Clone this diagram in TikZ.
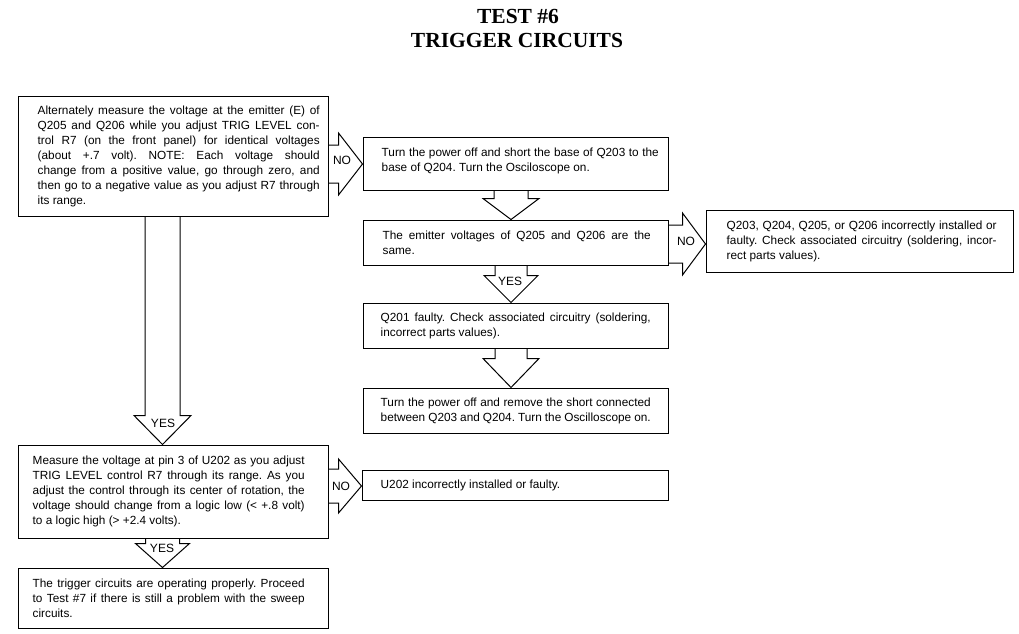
\documentclass[tikz,border=0pt]{standalone}
\usepackage{fontspec}
\setmainfont{Liberation Sans}
\newfontfamily\titlefont{Liberation Serif}
\usetikzlibrary{calc,fit}
\newcommand\txtsetup{\fontsize{11.8}{15}\selectfont\frenchspacing\hyphenpenalty=10000 \tolerance=9999\relax}
% right-pointing block arrow: from, to, shaft length, shaft half, head half
\newcommand\rblock[5]{%
  \draw[blk] ($(#1)+(0,-#4)$) -- ($(#1)+(#3,-#4)$) -- ($(#1)+(#3,-#5)$) -- (#2)
    -- ($(#1)+(#3,#5)$) -- ($(#1)+(#3,#4)$) -- ($(#1)+(0,#4)$);}
% down-pointing block arrow: from, to, shaft length, shaft half, head half
\newcommand\dblock[5]{%
  \draw[blk] ($(#1)+(-#4,0)$) -- ($(#1)+(-#4,#3)$) -- ($(#1)+(-#5,#3)$) -- (#2)
    -- ($(#1)+(#5,#3)$) -- ($(#1)+(#4,#3)$) -- ($(#1)+(#4,0)$);}
\begin{document}
\begin{tikzpicture}[x=1pt,y=-1pt,
  box/.style={draw, line width=1pt, rectangle, inner sep=0pt},
  txt/.style={inner sep=0pt, anchor=west, align=justify, font=\txtsetup},
  blk/.style={draw, line width=1pt, line join=miter},
  lab/.style={inner sep=0pt, font=\fontsize{12}{13}\selectfont},
  ttl/.style={inner sep=0pt, font=\titlefont\bfseries\fontsize{21.5}{21.5}\selectfont}]
\useasboundingbox (0,0) rectangle (1019,633);

% title
\node[ttl] (title1) at (518,16) {TEST \#6};
\node[ttl] (title2) at (517,40) {TRIGGER CIRCUITS};

% boxes
\node[box, fit={(18,96) (328,216)}] (b1) {};
\node[box, fit={(363,137) (668,190)}] (b2) {};
\node[box, fit={(363,220) (668,265)}] (b3) {};
\node[box, fit={(363,303) (668,348)}] (b4) {};
\node[box, fit={(363,388) (668,433)}] (b5) {};
\node[box, fit={(706,210) (1013,272)}] (b6) {};
\node[box, fit={(18,445) (328,538)}] (b7) {};
\node[box, fit={(362,470) (668,500)}] (b8) {};
\node[box, fit={(18,568) (328,628)}] (b9) {};

% texts
\node[txt, text width=282pt] (t1) at ([xshift=20pt]b1.west) {Alternately measure the voltage at the emitter (E) of\linebreak Q205 and Q206 while you adjust TRIG LEVEL con-\linebreak trol R7 (on the front panel) for identical voltages\linebreak (about +.7 volt). NOTE: Each voltage should\linebreak change from a positive value, go through zero, and\linebreak then go to a negative value as you adjust R7 through\linebreak its range.};
\node[txt, text width=277pt] (t2) at ([xshift=19pt,yshift=3pt]b2.west) {Turn the power off and short the base of Q203 to the\linebreak base of Q204. Turn the Osciloscope on.};
\node[txt, text width=268pt] (t3) at ([xshift=20pt]b3.west) {The emitter voltages of Q205 and Q206 are the\linebreak same.};
\node[txt, text width=270pt] (t4) at ([xshift=18pt]b4.west) {Q201 faulty. Check associated circuitry (soldering,\linebreak incorrect parts values).};
\node[txt, text width=270pt] (t5) at ([xshift=18pt]b5.west) {Turn the power off and remove the short connected\linebreak between Q203 and Q204. Turn the Oscilloscope on.};
\node[txt, text width=270pt] (t6) at ([xshift=21pt]b6.west) {Q203, Q204, Q205, or Q206 incorrectly installed or\linebreak faulty. Check associated circuitry (soldering, incor-\linebreak rect parts values).};
\node[txt, text width=272pt] (t7) at ([xshift=15pt]b7.west) {Measure the voltage at pin 3 of U202 as you adjust\linebreak TRIG LEVEL control R7 through its range. As you\linebreak adjust the control through its center of rotation, the\linebreak voltage should change from a logic low (< +.8 volt)\linebreak to a logic high (> +2.4 volts).};
\node[txt, text width=270pt] (t8) at ([xshift=19pt]b8.west) {U202 incorrectly installed or faulty.};
\node[txt, text width=272pt] (t9) at ([xshift=15pt]b9.west) {The trigger circuits are operating properly. Proceed\linebreak to Test \#7 if there is still a problem with the sweep\linebreak circuits.};

% arrow reference lines
\coordinate (ya1) at (0,164);
\coordinate (ya2) at (0,244);
\coordinate (ya3) at (0,486);
\coordinate (xr) at (511,0);
\coordinate (xl) at (162.5,0);

% NO arrows (horizontal)
\coordinate (a1s) at (b1.east |- ya1);
\coordinate (a1t) at (b2.west |- ya1);
\rblock{a1s}{a1t}{10}{19}{31}
\coordinate (a2s) at (b3.east |- ya2);
\coordinate (a2t) at (b6.west |- ya2);
\rblock{a2s}{a2t}{14}{19}{31}
\coordinate (a3s) at (b7.east |- ya3);
\coordinate (a3t) at (b8.west |- ya3);
\rblock{a3s}{a3t}{10}{17}{27}

% vertical arrows
\coordinate (d1s) at (b2.south -| xr);
\coordinate (d1t) at (b3.north -| xr);
\dblock{d1s}{d1t}{8}{17}{28}
\coordinate (d2s) at (b3.south -| xr);
\coordinate (d2t) at (b4.north -| xr);
\dblock{d2s}{d2t}{10}{16}{27}
\coordinate (d3s) at (b4.south -| xr);
\coordinate (d3t) at (b5.north -| xr);
\dblock{d3s}{d3t}{10}{16}{28}
\coordinate (d4s) at (b1.south -| xl);
\coordinate (d4t) at (b7.north -| xl);
\dblock{d4s}{d4t}{199}{17.5}{28.5}
\coordinate (d5s) at (b7.south -| xl);
\coordinate (d5t) at (b9.north -| xl);
\dblock{d5s}{d5t}{5}{17}{27}

% labels
\node[lab] (no1) at (342,160) {NO};
\node[lab] (no2) at (686,241) {NO};
\node[lab] (no3) at (341,486) {NO};
\node[lab] (yes1) at (510,281) {YES};
\node[lab] (yes2) at (163,423) {YES};
\node[lab] (yes3) at (162,548) {YES};
\end{tikzpicture}
\end{document}
